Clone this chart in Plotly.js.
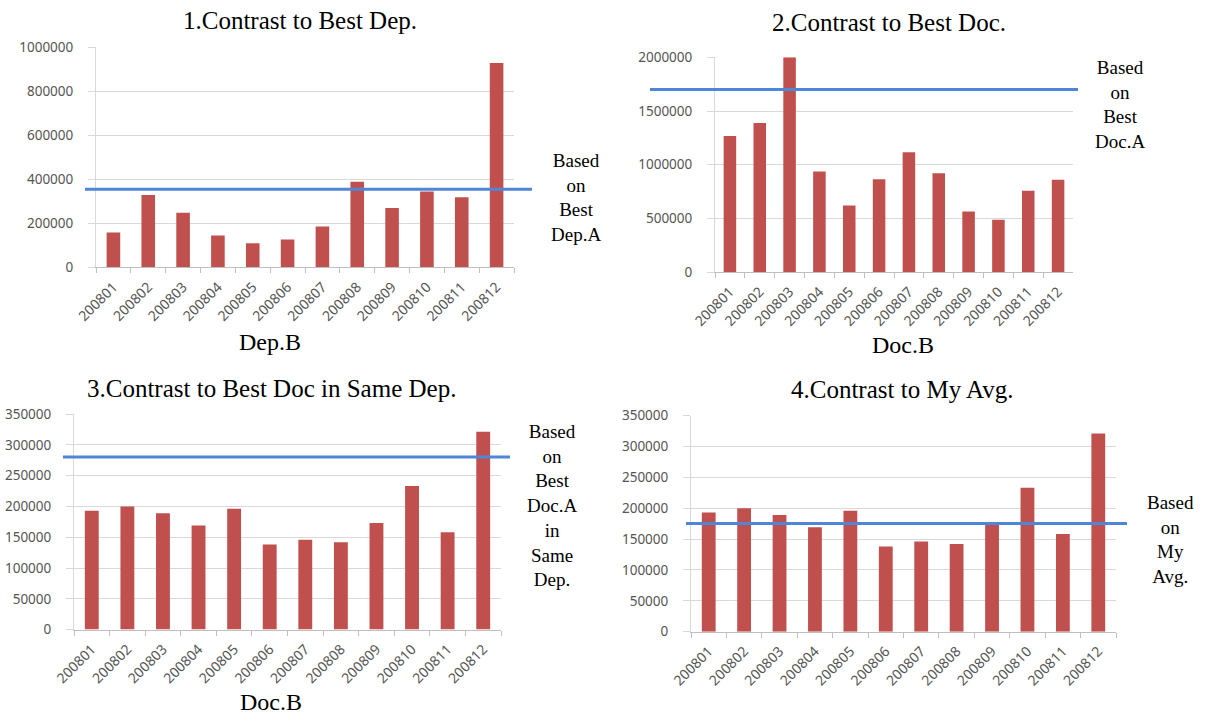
<!DOCTYPE html>
<html>
<head>
<meta charset="utf-8">
<script src="https://cdn.plot.ly/plotly-3.0.1.min.js"></script>
<style>
  html, body { margin: 0; padding: 0; background: #ffffff; }
  #chart { width: 1205px; height: 716px; }
</style>
</head>
<body>
<div id="chart"></div>
<script>
// Monthly categories shared by all four panels
const months = ['200801', '200802', '200803', '200804', '200805', '200806',
                '200807', '200808', '200809', '200810', '200811', '200812'];

// 1. Department B monthly totals
const depB = [158000, 329000, 248000, 144000, 109000, 126000,
              186000, 389000, 270000, 344000, 318000, 929000];

// 2. Doctor B monthly totals (hospital-wide scale)
const docB = [1267000, 1388000, 2000000, 937000, 621000, 865000,
              1116000, 921000, 565000, 488000, 757000, 860000];

// 3. and 4. Doctor B monthly totals (same-department scale)
const docBDep = [193000, 200000, 189000, 169000, 196000, 138000,
                 146000, 142000, 173000, 233000, 158000, 321000];

// Reference levels drawn as horizontal lines
const bestDepA = 355000;
const bestDocA = 1700000;
const bestDocASameDep = 280000;
const myAvg = 175000;

// Panel titles, axis titles and side captions
const panelTitles = ['1.Contrast to Best Dep.', '2.Contrast to Best Doc.',
                     '3.Contrast to Best Doc in Same Dep.', '4.Contrast to My Avg.'];
const axisTitles = ['Dep.B', 'Doc.B', 'Doc.B', ''];
const sideLabels = [
  ['Based', 'on', 'Best', 'Dep.A'],
  ['Based', 'on', 'Best', 'Doc.A'],
  ['Based', 'on', 'Best', 'Doc.A', 'in', 'Same', 'Dep.'],
  ['Based', 'on', 'My', 'Avg.']
];

const series = [depB, docB, docBDep, docBDep];
const baselines = [bestDepA, bestDocA, bestDocASameDep, myAvg];

// Page geometry in pixels
const W = 1205, H = 716;
const fx = p => p / W;
const fy = p => 1 - p / H;

const frames = [
  { left: 96,  right: 514,  top: 47.3,  bottom: 267.3, yMax: 1000000, dtick: 200000, barW: 0.39,
    lineFrom: 85,  lineTo: 532,  titleX: 300, titleY: 20,  axX: 270, axY: 342, sideX: 576,  sideY: 197 },
  { left: 715, right: 1073, top: 57.3,  bottom: 272.2, yMax: 2000000, dtick: 500000, barW: 0.42,
    lineFrom: 650, lineTo: 1078, titleX: 889, titleY: 22,  axX: 903, axY: 345, sideX: 1120, sideY: 105 },
  { left: 74,  right: 501,  top: 414,   bottom: 629.6, yMax: 350000,  dtick: 50000,  barW: 0.39,
    lineFrom: 63,  lineTo: 510,  titleX: 271, titleY: 388, axX: 271, axY: 702, sideX: 552,  sideY: 505 },
  { left: 691, right: 1116, top: 415.5, bottom: 631.7, yMax: 350000,  dtick: 50000,  barW: 0.39,
    lineFrom: 686, lineTo: 1127, titleX: 902, titleY: 390, axX: 902, axY: 702, sideX: 1170, sideY: 539 }
];

const serif = '"Liberation Serif", "Times New Roman", serif';
const sans = '"Noto Sans", "Open Sans", sans-serif';
const barColor = '#C0504D';
const lineColor = '#4F86D6';
const tickText = '#555555';

const traces = [];
const layout = {
  width: W, height: H,
  margin: { l: 0, r: 0, t: 0, b: 0, pad: 0 },
  paper_bgcolor: '#ffffff',
  plot_bgcolor: '#ffffff',
  showlegend: false,
  annotations: [],
  shapes: []
};

frames.forEach((f, i) => {
  const n = i === 0 ? '' : String(i + 1);
  traces.push({
    type: 'bar',
    x: months,
    y: series[i],
    xaxis: 'x' + n,
    yaxis: 'y' + n,
    width: f.barW,
    marker: { color: barColor, line: { width: 0 } },
    hoverinfo: 'skip'
  });

  layout['xaxis' + n] = {
    domain: [fx(f.left), fx(f.right)],
    anchor: 'y' + n,
    type: 'category',
    showgrid: false,
    zeroline: false,
    showline: true,
    linecolor: '#bfbfbf',
    linewidth: 1,
    ticks: 'outside',
    tickson: 'boundaries',
    ticklen: 5,
    tickcolor: '#bfbfbf',
    tickangle: -45,
    ticklabelstandoff: 5,
    tickfont: { family: sans, size: 14, color: tickText },
    fixedrange: true
  };
  layout['yaxis' + n] = {
    domain: [fy(f.bottom), fy(f.top)],
    anchor: 'x' + n,
    range: [0, f.yMax],
    tick0: 0,
    dtick: f.dtick,
    tickformat: 'd',
    showgrid: true,
    gridcolor: '#d9d9d9',
    gridwidth: 1,
    zeroline: false,
    showline: true,
    linecolor: '#d9d9d9',
    linewidth: 1,
    ticks: 'outside',
    ticklen: 7,
    tickcolor: '#d9d9d9',
    ticklabelstandoff: 12,
    tickfont: { family: sans, size: 13.5, color: tickText },
    fixedrange: true
  };

  // Reference level line
  layout.shapes.push({
    type: 'line', xref: 'paper', yref: 'y' + n,
    x0: fx(f.lineFrom), x1: fx(f.lineTo),
    y0: baselines[i], y1: baselines[i],
    line: { color: lineColor, width: 3 },
    layer: 'above'
  });

  // Panel title
  layout.annotations.push({
    xref: 'paper', yref: 'paper', x: fx(f.titleX), y: fy(f.titleY),
    xanchor: 'center', yanchor: 'middle', showarrow: false,
    text: panelTitles[i],
    font: { family: serif, size: 25, color: '#000000' }
  });

  // Category axis caption
  if (axisTitles[i]) {
    layout.annotations.push({
      xref: 'paper', yref: 'paper', x: fx(f.axX), y: fy(f.axY),
      xanchor: 'center', yanchor: 'middle', showarrow: false,
      text: axisTitles[i],
      font: { family: serif, size: 24, color: '#000000' }
    });
  }

  // Side caption naming the reference level
  layout.annotations.push({
    xref: 'paper', yref: 'paper', x: fx(f.sideX), y: fy(f.sideY),
    xanchor: 'center', yanchor: 'middle', align: 'center', showarrow: false,
    text: sideLabels[i].join('<br>'),
    font: { family: serif, size: 19, color: '#000000' }
  });
});

Plotly.newPlot('chart', traces, layout, { staticPlot: true, displayModeBar: false });
</script>
</body>
</html>
